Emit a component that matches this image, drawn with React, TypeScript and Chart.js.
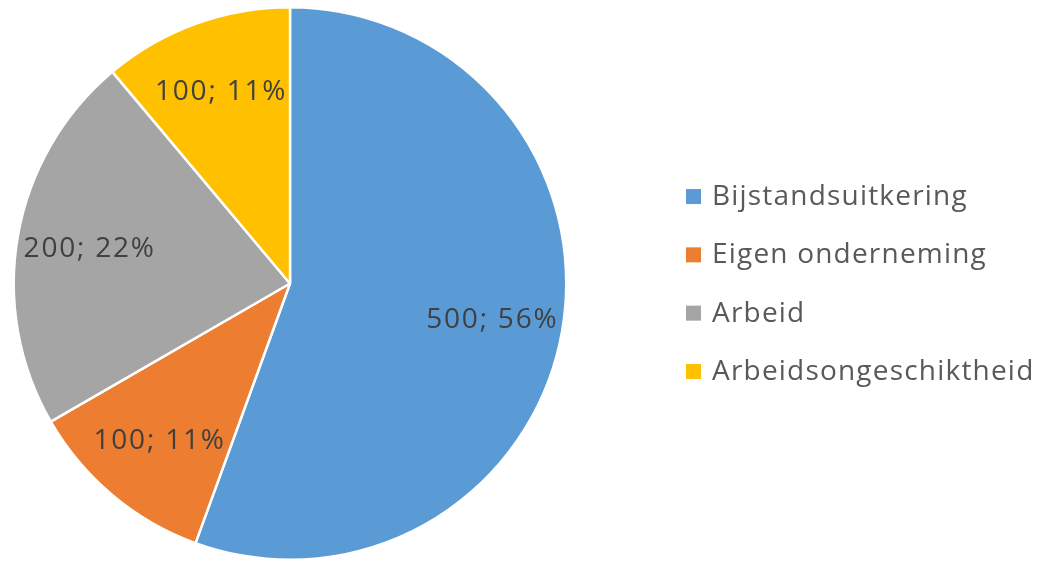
import React, { useEffect, useRef } from "react";
import { Chart, registerables } from "chart.js";

Chart.register(...registerables);

const categories = ["Bijstandsuitkering", "Eigen onderneming", "Arbeid", "Arbeidsongeschiktheid"];
const values = [500, 100, 200, 100];
const colors = ["#5B9BD5", "#ED7D31", "#A5A5A5", "#FFC000"];

const FONT = "'Open Sans', Lato, sans-serif";

const labelPlugin = {
  id: "sliceLabels",
  afterDatasetsDraw(chart: any) {
    const ctx = chart.ctx;
    const meta = chart.getDatasetMeta(0);
    const data = chart.data.datasets[0].data as number[];
    const total = data.reduce((a, b) => a + b, 0);
    ctx.save();
    ctx.font = `28px ${FONT}`;
    (ctx as any).letterSpacing = "1.8px";
    ctx.fillStyle = "#404040";
    ctx.textAlign = "center";
    ctx.textBaseline = "middle";
    meta.data.forEach((arc: any, i: number) => {
      const { x, y, startAngle, endAngle, outerRadius } = arc.getProps(
        ["x", "y", "startAngle", "endAngle", "outerRadius"],
        true
      );
      const mid = (startAngle + endAngle) / 2;
      const r = outerRadius * 0.74;
      const pct = Math.round((data[i] / total) * 100);
      ctx.fillText(`${data[i]}; ${pct}%`, x + Math.cos(mid) * r + 1, y + Math.sin(mid) * r + 1);
    });
    ctx.restore();
  },
};

const legendPlugin = {
  id: "sideLegend",
  afterDraw(chart: any) {
    const ctx = chart.ctx;
    const labels = chart.data.labels as string[];
    const bg = chart.data.datasets[0].backgroundColor as string[];
    const left = chart.chartArea.right + 118;
    const rowH = 58.3;
    const cy = chart.chartArea.top + chart.chartArea.height / 2 + 0.5;
    const startY = cy - (rowH * (labels.length - 1)) / 2;
    ctx.save();
    ctx.font = `28px ${FONT}`;
    (ctx as any).letterSpacing = "1.2px";
    ctx.textBaseline = "middle";
    ctx.textAlign = "left";
    labels.forEach((lab, i) => {
      const y = startY + i * rowH;
      ctx.fillStyle = bg[i];
      ctx.fillRect(left, y - 7.5, 15, 15);
      ctx.fillStyle = "#595959";
      ctx.fillText(lab, left + 26, y + 0.5);
    });
    ctx.restore();
  },
};

export default function App() {
  const ref = useRef<HTMLCanvasElement>(null);
  useEffect(() => {
    document.body.style.margin = "0";
    const chart = new Chart(ref.current!, {
      type: "pie",
      data: {
        labels: categories,
        datasets: [
          {
            data: values,
            backgroundColor: colors,
            borderColor: "#FFFFFF",
            borderWidth: 2.5,
          },
        ],
      },
      options: {
        animation: false,
        responsive: false,
        layout: { padding: { left: 12, top: 6, right: 491, bottom: 0 } },
        plugins: {
          legend: { display: false },
          tooltip: { enabled: false },
        },
      },
      plugins: [labelPlugin, legendPlugin],
    });
    return () => chart.destroy();
  }, []);
  return (
    <div style={{ width: 1059, height: 561, background: "#fff" }}>
      <canvas ref={ref} width={1059} height={561} style={{ width: 1059, height: 561, display: "block" }} />
    </div>
  );
}
